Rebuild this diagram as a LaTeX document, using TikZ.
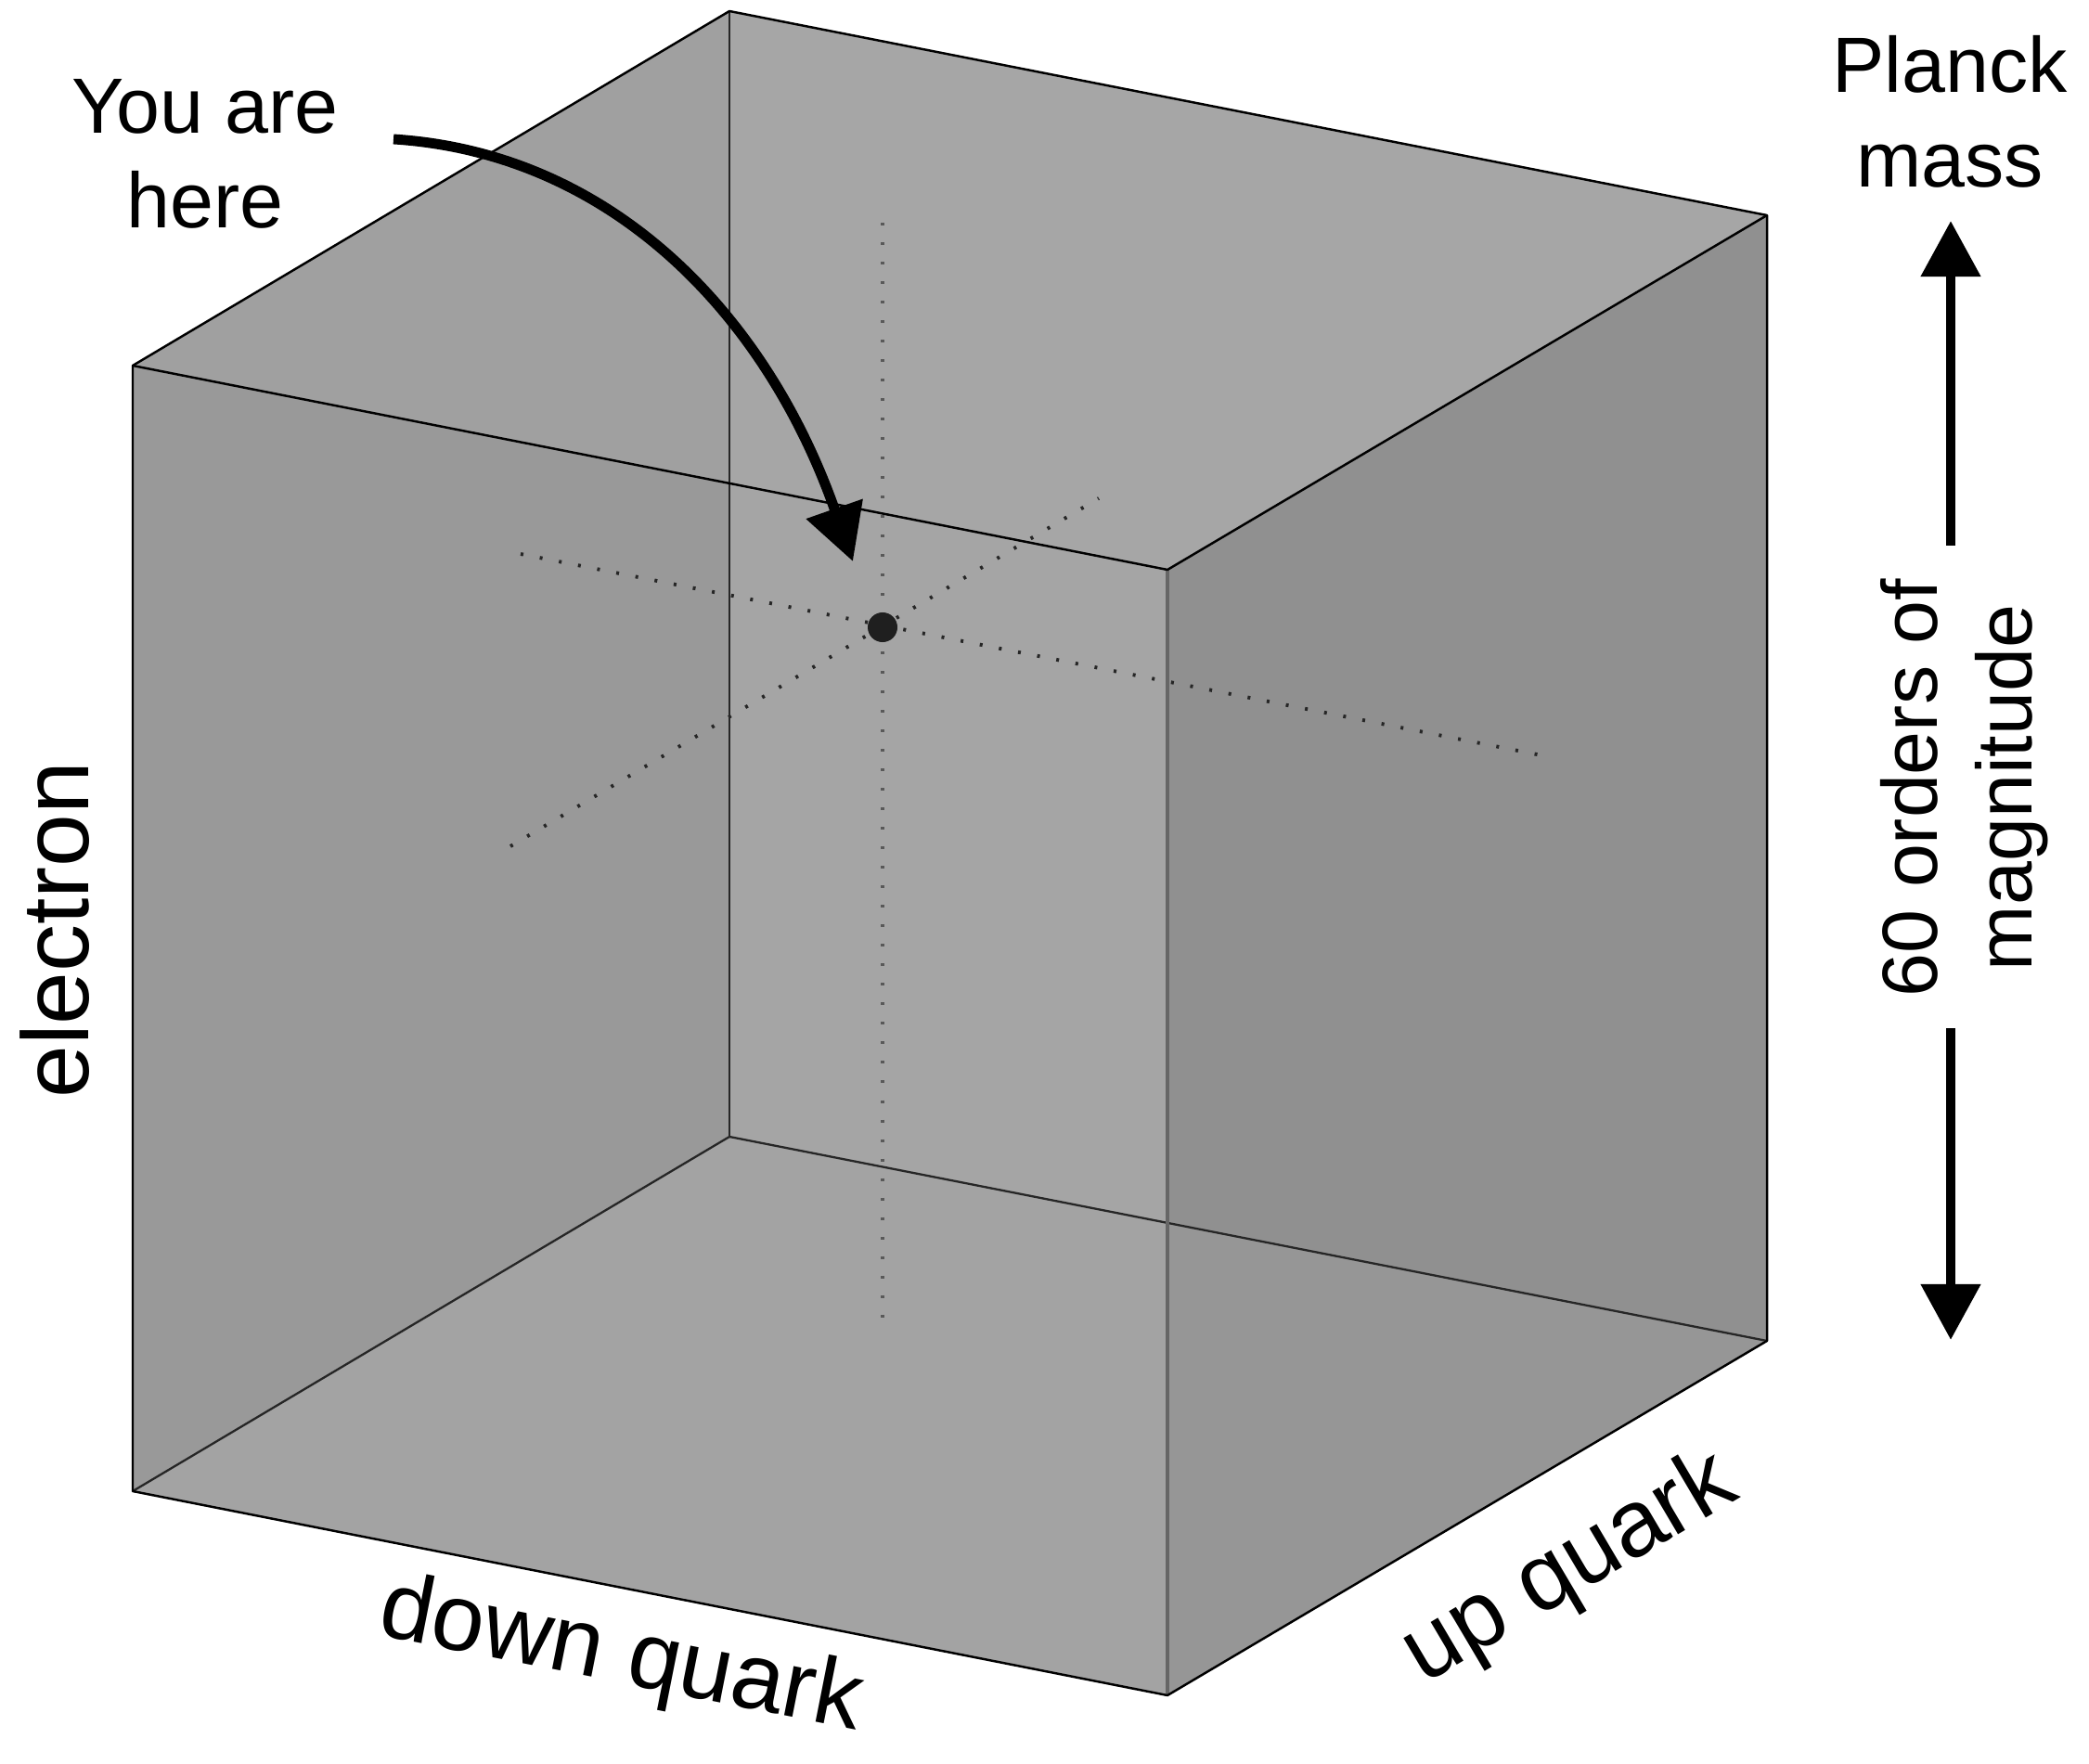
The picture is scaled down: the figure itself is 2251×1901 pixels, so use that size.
\documentclass[tikz,border=0pt]{standalone}
\usepackage{fontspec}
\setmainfont{Liberation Sans}
\usetikzlibrary{arrows.meta}
\definecolor{topL}{HTML}{A0A0A0}
\definecolor{topR}{HTML}{A6A6A6}
\definecolor{frontL}{HTML}{999999}
\definecolor{frontB}{HTML}{A5A5A5}
\definecolor{frontD}{HTML}{A3A3A3}
\definecolor{rightU}{HTML}{909090}
\definecolor{rightD}{HTML}{969696}
\begin{document}
\begin{tikzpicture}[x=0.01cm,y=-0.01cm,
  edge/.style={line width=0.7pt, black, line join=round},
  hidden/.style={line width=0.65pt, black!85},
  frontedge/.style={line width=0.9pt, black!60},
  dotline/.style={line width=1.1pt, black!85, dash pattern=on 0.03cm off 0.18cm},
  vdotline/.style={line width=1.1pt, black!65, dash pattern=on 0.03cm off 0.18cm},
  bigarrow/.style={line width=3.1pt, -{Triangle[length=0.6cm,width=0.62cm]}},
  lbl/.style={inner sep=0pt, align=center, font=\fontsize{24}{29}\selectfont},
  axlbl/.style={inner sep=0pt, font=\fontsize{29}{34}\selectfont}]
\useasboundingbox (0,0) rectangle (2251,1901);

% cube vertices
\coordinate (FLT) at (143,394);
\coordinate (FLB) at (143,1607);
\coordinate (FRT) at (1258,614);
\coordinate (FRB) at (1258,1827);
\coordinate (BLT) at (786,12);
\coordinate (BLB) at (786,1225);
\coordinate (BRT) at (1904,232);
\coordinate (BRB) at (1904,1445);
\coordinate (I1) at (786,521);
\coordinate (I2) at (1258,1318);

% faces
\fill[topL] (FLT) -- (BLT) -- (I1) -- cycle;
\fill[topR] (BLT) -- (BRT) -- (FRT) -- (I1) -- cycle;
\fill[frontL] (FLT) -- (I1) -- (BLB) -- (FLB) -- cycle;
\fill[frontB] (I1) -- (FRT) -- (I2) -- (BLB) -- cycle;
\fill[frontD] (BLB) -- (I2) -- (FRB) -- (FLB) -- cycle;
\fill[rightU] (FRT) -- (BRT) -- (BRB) -- (I2) -- cycle;
\fill[rightD] (I2) -- (BRB) -- (FRB) -- cycle;

% hidden edges
\draw[hidden] (BLT) -- (BLB);
\draw[hidden] (BLB) -- (BRB);
\draw[hidden] (BLB) -- (FLB);

% dotted guide lines through the point
\coordinate (vTop) at (951,240);
\coordinate (vBot) at (951,1424);
\coordinate (dL) at (561,597);
\coordinate (dR) at (1661,814);
\coordinate (uL) at (550,912);
\coordinate (uR) at (1184,537);
\draw[vdotline] (vTop) -- (vBot);
\draw[dotline] (dL) -- (dR);
\draw[dotline] (uL) -- (uR);

% visible edges
\draw[frontedge] (FRT) -- (FRB);
\draw[edge] (FLT) -- (BLT) -- (BRT) -- (BRB) -- (FRB) -- (FLB) -- cycle;
\draw[edge] (FLT) -- (FRT) -- (BRT);

% the point
\node[circle, fill=black!88, minimum size=0.32cm, inner sep=0pt] (here) at (951,676) {};

% labels
\node[lbl] (you) at (221,166) {You are\\here};
\node[lbl] (planck) at (2101,120) {Planck\\mass};
\node[lbl, rotate=90] (orders) at (2117,849) {60 orders of\\magnitude};
\node[axlbl, rotate=90, anchor=base] (electron) at (95,1002) {electron};
\node[axlbl, rotate=-11.2] (down) at (669,1787) {down quark};
\node[axlbl, rotate=30.6] (up) at (1692,1692) {up quark};

% curved arrow
\coordinate (cStart) at (424,150);
\coordinate (cTip) at (919,605);
\draw[bigarrow] (cStart) .. controls (660,165) and (826,340) .. (cTip);

% double arrow
\coordinate (aTopS) at (2102,588);
\coordinate (aTopT) at (2102,238);
\coordinate (aBotS) at (2102,1108);
\coordinate (aBotT) at (2102,1444);
\draw[bigarrow] (aTopS) -- (aTopT);
\draw[bigarrow] (aBotS) -- (aBotT);
\end{tikzpicture}
\end{document}
